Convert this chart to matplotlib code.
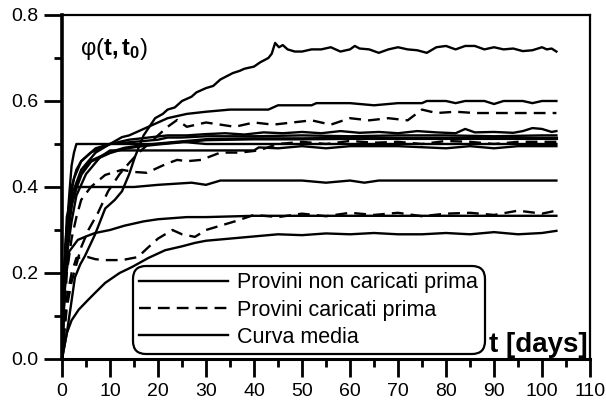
import matplotlib

matplotlib.use("Agg")
import matplotlib.pyplot as plt
from matplotlib.lines import Line2D
from matplotlib.ticker import MultipleLocator

plt.rcParams["font.family"] = ["Liberation Sans", "DejaVu Sans"]
plt.rcParams["mathtext.fontset"] = "custom"
plt.rcParams["mathtext.rm"] = "Liberation Sans"
plt.rcParams["mathtext.bf"] = "Liberation Sans:bold"
plt.rcParams["mathtext.it"] = "Liberation Sans:italic"

# --- specimens not loaded before (solid) ---
t_s1 = [0, 0.5, 1, 1.8, 2.7, 3.8, 4.8, 6.9, 9, 11, 12.5, 14, 15.2, 17, 19.4, 21, 22, 23.5, 25, 27,
        28, 30, 31.5, 33, 35.6, 37, 38, 40, 41.3, 43, 43.7, 44.4, 45.2, 46, 47, 48.5, 50, 52, 54, 56,
        58, 60, 61, 62, 64, 66, 68, 70, 72, 74, 76, 78, 80, 82, 84, 86, 88, 90, 92, 94,
        96, 98, 100, 101, 102, 103]
phi_s1 = [0, 0.03, 0.06, 0.12, 0.19, 0.22, 0.24, 0.29, 0.35, 0.37, 0.39, 0.43, 0.47, 0.52, 0.56, 0.57, 0.58, 0.585, 0.60, 0.61,
          0.62, 0.63, 0.635, 0.65, 0.665, 0.67, 0.675, 0.68, 0.69, 0.70, 0.71, 0.735, 0.725, 0.73, 0.72, 0.715, 0.715, 0.72, 0.72, 0.725,
          0.715, 0.72, 0.728, 0.722, 0.72, 0.712, 0.72, 0.725, 0.72, 0.718, 0.712, 0.725, 0.728, 0.72, 0.728, 0.728, 0.72, 0.725, 0.72, 0.722,
          0.716, 0.718, 0.725, 0.72, 0.722, 0.715]

t_s2 = [0, 0.3, 0.7, 1.2, 2, 3, 4, 5.5, 7, 8.5, 10, 12.5, 14, 16, 18, 20, 22, 24, 26, 30,
        35, 40, 43, 45, 50, 52, 53, 55, 60, 65, 70, 75, 76, 80, 82, 84, 88, 90, 92, 96, 98, 100, 103]
phi_s2 = [0, 0.15, 0.25, 0.32, 0.38, 0.41, 0.44, 0.46, 0.48, 0.49, 0.5, 0.516, 0.52, 0.53, 0.54, 0.55, 0.56, 0.565, 0.57, 0.575,
          0.58, 0.58, 0.58, 0.59, 0.59, 0.59, 0.595, 0.595, 0.595, 0.59, 0.595, 0.595, 0.60, 0.60, 0.595, 0.60, 0.60, 0.593, 0.60, 0.60,
          0.595, 0.60, 0.60]

t_s3 = [0, 0.3, 0.6, 1, 1.5, 2, 3, 4, 5, 7, 10, 14, 18, 22, 26, 30, 34, 38, 42, 46,
        50, 54, 58, 62, 66, 70, 74, 78, 82, 84, 86, 90, 94, 96, 98, 100, 102, 103]
phi_s3 = [0, 0.12, 0.22, 0.3, 0.36, 0.4, 0.44, 0.46, 0.47, 0.49, 0.5, 0.51, 0.515, 0.52, 0.52, 0.523, 0.525, 0.522, 0.527, 0.525,
          0.528, 0.525, 0.53, 0.526, 0.528, 0.525, 0.53, 0.527, 0.525, 0.535, 0.527, 0.528, 0.526, 0.53, 0.537, 0.535, 0.528, 0.53]

t_s4 = [0, 0.5, 1, 1.5, 2, 2.5, 3, 20, 25, 30, 40, 50, 60, 70, 80, 90, 100, 103]
phi_s4 = [0, 0.2, 0.3, 0.38, 0.45, 0.48, 0.5, 0.5, 0.505, 0.5, 0.5, 0.5, 0.5, 0.5, 0.5, 0.5, 0.5, 0.5]

t_s5 = [0, 0.4, 0.8, 1.5, 2.5, 4, 6, 8, 10, 15, 20, 22, 25, 30, 40, 50, 60, 70, 80, 90, 100, 103]
phi_s5 = [0, 0.18, 0.28, 0.36, 0.42, 0.46, 0.48, 0.49, 0.5, 0.505, 0.51, 0.515, 0.515, 0.518, 0.518, 0.52, 0.518, 0.52, 0.52, 0.518,
          0.52, 0.52]

t_s6 = [0, 0.5, 1, 2, 3, 5, 8, 10, 20, 30, 40, 41, 45, 50, 55, 60, 70, 80, 85, 90, 95, 100, 103]
phi_s6 = [0, 0.15, 0.24, 0.32, 0.38, 0.43, 0.47, 0.485, 0.485, 0.485, 0.485, 0.492, 0.49, 0.495, 0.49, 0.495, 0.495, 0.49, 0.495, 0.49,
          0.495, 0.495, 0.495]

t_s7 = [0, 0.5, 1, 2, 3, 15, 20, 27, 30, 33, 40, 50, 55, 60, 63, 66, 70, 75, 80, 90, 103]
phi_s7 = [0, 0.2, 0.33, 0.38, 0.40, 0.40, 0.405, 0.41, 0.405, 0.415, 0.415, 0.415, 0.41, 0.415, 0.41, 0.415, 0.415, 0.415, 0.415, 0.415,
          0.415]

t_s8 = [0, 0.3, 0.7, 1.5, 3.3, 5, 6.9, 10, 13, 17, 20, 26, 30, 40, 50, 60, 70, 80, 90, 100, 103]
phi_s8 = [0, 0.1, 0.18, 0.25, 0.277, 0.285, 0.293, 0.3, 0.31, 0.32, 0.325, 0.33, 0.33, 0.333, 0.333, 0.333, 0.333, 0.333, 0.333, 0.333,
          0.333]

t_s9 = [0, 0.5, 1, 2, 3.5, 5.4, 7, 9, 12, 14.6, 18, 21.5, 25, 27.7, 30, 35, 40, 45, 50, 55,
        60, 65, 70, 75, 80, 85, 90, 95, 100, 103]
phi_s9 = [0, 0.03, 0.06, 0.09, 0.115, 0.137, 0.155, 0.177, 0.2, 0.214, 0.235, 0.253, 0.262, 0.27, 0.275, 0.28, 0.285, 0.29, 0.288, 0.292,
          0.29, 0.293, 0.29, 0.29, 0.293, 0.29, 0.295, 0.29, 0.293, 0.298]

# --- specimens loaded before (dashed) ---
t_d1 = [0, 0.5, 1, 2, 3, 4, 5.5, 7.5, 9.6, 12, 14, 16, 18, 20, 22, 24, 26, 28, 30, 33,
        36, 40, 44, 48, 52, 56, 60, 64, 68, 72, 75, 78, 82, 86, 90, 95, 100, 103]
phi_d1 = [0, 0.06, 0.12, 0.18, 0.22, 0.26, 0.3, 0.34, 0.39, 0.43, 0.456, 0.48, 0.5, 0.52, 0.54, 0.556, 0.54, 0.545, 0.55, 0.545,
          0.54, 0.55, 0.545, 0.55, 0.555, 0.545, 0.56, 0.555, 0.56, 0.555, 0.58, 0.572, 0.575, 0.572, 0.572, 0.572, 0.572, 0.572]

t_d2 = [0, 0.5, 1, 2, 3, 4, 6, 9, 12.5, 15, 17.7, 20.4, 22, 24, 26, 29, 33, 37, 41, 45,
        50, 55, 60, 65, 70, 75, 80, 85, 90, 95, 100, 103]
phi_d2 = [0, 0.1, 0.2, 0.28, 0.33, 0.37, 0.4, 0.428, 0.44, 0.435, 0.433, 0.447, 0.455, 0.463, 0.46, 0.463, 0.48, 0.48, 0.485, 0.5,
          0.505, 0.5, 0.507, 0.503, 0.505, 0.5, 0.507, 0.505, 0.5, 0.505, 0.505, 0.505]

t_d3 = [0, 0.5, 1, 2, 3, 5.4, 7, 9, 12.5, 15.8, 18, 20, 23, 25, 27.7, 30, 33, 36, 40, 45,
        50, 55, 60, 65, 70, 75, 80, 85, 90, 95, 100, 103]
phi_d3 = [0, 0.08, 0.14, 0.2, 0.235, 0.237, 0.232, 0.23, 0.23, 0.237, 0.26, 0.28, 0.3, 0.29, 0.284, 0.3, 0.31, 0.32, 0.335, 0.33,
          0.338, 0.332, 0.34, 0.335, 0.34, 0.332, 0.338, 0.34, 0.335, 0.345, 0.338, 0.345]

# --- mean curve ---
t_mean = [0, 0.3, 0.6, 1, 1.5, 2, 3, 4, 6, 8, 10, 13, 16, 20, 25, 30, 40, 50, 60, 70, 80, 90, 100, 103]
phi_mean = [0, 0.12, 0.2, 0.27, 0.32, 0.36, 0.4, 0.43, 0.46, 0.47, 0.48, 0.49, 0.495, 0.5, 0.505, 0.51, 0.512, 0.512, 0.513, 0.513,
            0.513, 0.513, 0.513, 0.513]

solid_curves = [(t_s1, phi_s1), (t_s2, phi_s2), (t_s3, phi_s3), (t_s4, phi_s4), (t_s5, phi_s5),
                (t_s6, phi_s6), (t_s7, phi_s7), (t_s8, phi_s8), (t_s9, phi_s9)]
dashed_curves = [(t_d1, phi_d1), (t_d2, phi_d2), (t_d3, phi_d3)]
legend_labels = ["Provini non caricati prima", "Provini caricati prima", "Curva media"]

fig = plt.figure(figsize=(6.06, 4.03), dpi=100)
ax = fig.add_axes([0.1023, 0.1092, 0.8713, 0.8536])

lw = 1.7
dash = (0, (5, 3))
for t, phi in solid_curves:
    ax.plot(t, phi, color="black", linewidth=lw)
for t, phi in dashed_curves:
    ax.plot(t, phi, color="black", linewidth=lw, linestyle=dash)
ax.plot(t_mean, phi_mean, color="black", linewidth=2.4)

ax.set_xlim(0, 110)
ax.set_ylim(0, 0.8)
ax.xaxis.set_major_locator(MultipleLocator(10))
ax.xaxis.set_minor_locator(MultipleLocator(5))
ax.yaxis.set_major_locator(MultipleLocator(0.2))
ax.yaxis.set_minor_locator(MultipleLocator(0.1))
ax.yaxis.set_major_formatter(plt.FuncFormatter(lambda v, _: f"{v:.1f}"))
ax.tick_params(which="major", direction="out", length=13, width=2, labelsize=14, pad=4)
ax.tick_params(which="minor", direction="out", length=6, width=2)
ax.spines["left"].set_linewidth(2.6)
ax.spines["bottom"].set_linewidth(2.2)
ax.spines["top"].set_linewidth(1.6)
ax.spines["right"].set_linewidth(1.6)

handles = [
    Line2D([], [], color="black", linewidth=lw),
    Line2D([], [], color="black", linewidth=lw, linestyle=dash),
    Line2D([], [], color="black", linewidth=lw),
]
leg = ax.legend(handles, legend_labels, loc="lower left", bbox_to_anchor=(0.1345, 0.0145),
                borderaxespad=0, fontsize=15.5, handlelength=4.1, handletextpad=0.45,
                labelspacing=0.28, borderpad=0.3, fancybox=True, framealpha=1)
frame = leg.get_frame()
frame.set_edgecolor("black")
frame.set_linewidth(1.6)
frame.set_boxstyle("round,pad=0.0,rounding_size=0.6")

ax.text(0.996, 0.02, "t [days]", transform=ax.transAxes, ha="right", va="baseline",
        fontsize=20, fontweight="bold")
ax.text(0.035, 0.9, r"$\mathrm{φ(}\mathbf{t,t}_{\mathbf{0}}\mathrm{)}$", transform=ax.transAxes,
        ha="left", va="center", fontsize=17)

fig.savefig("out.png", dpi=100)
